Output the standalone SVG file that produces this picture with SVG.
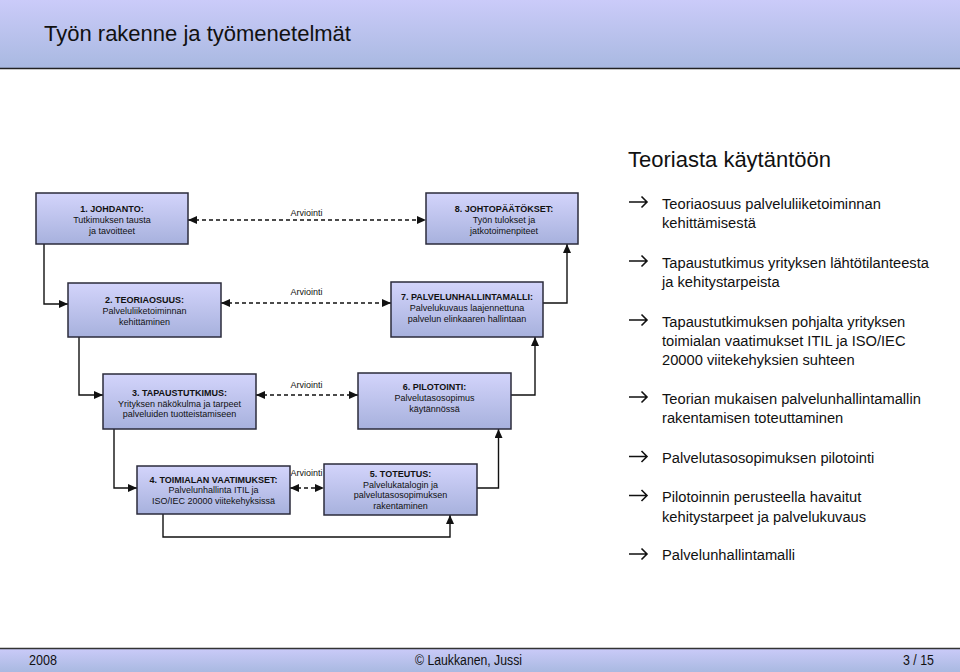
<svg xmlns="http://www.w3.org/2000/svg" width="960" height="672" viewBox="0 0 960 672">
<defs>
<linearGradient id="band" x1="0" y1="0" x2="0" y2="1">
<stop offset="0" stop-color="#cbcbf9"/>
<stop offset="1" stop-color="#a9b9e1"/>
</linearGradient>
<linearGradient id="box" x1="0" y1="0" x2="0" y2="1">
<stop offset="0" stop-color="#d3d4fb"/>
<stop offset="1" stop-color="#a7b1dd"/>
</linearGradient>
<marker id="ah" viewBox="0 0 9 8" refX="9" refY="4" markerWidth="9" markerHeight="8" markerUnits="userSpaceOnUse" orient="auto-start-reverse">
<path d="M0,0 L9,4 L0,8 z" fill="#111"/>
</marker>
<style>
.bx{fill:url(#box);stroke:#2b2b3b;stroke-width:1.5}
.t{font-family:"Liberation Sans",Arial,sans-serif;font-size:9px;fill:#111;text-anchor:middle}
.b{font-weight:bold}
.lab{font-family:"Liberation Sans",Arial,sans-serif;font-size:9px;fill:#111;text-anchor:middle}
.c{fill:none;stroke:#111;stroke-width:1.4}
.d{fill:none;stroke:#111;stroke-width:1.5;stroke-dasharray:4,3}
.bl{font-family:"Liberation Sans",Arial,sans-serif;font-size:14.7px;fill:#111}
.ba{fill:none;stroke:#111;stroke-width:1.6}
.ft{font-family:"Liberation Sans",Arial,sans-serif;font-size:14px;fill:#111}
</style>
</defs>
<rect width="960" height="672" fill="#fff"/>
<g id="header">
<rect x="0" y="0" width="960" height="68" fill="url(#band)"/>
<line x1="0" y1="68.5" x2="960" y2="68.5" stroke="#222" stroke-width="1.5"/>
<text x="44" y="41" style="font-family:'Liberation Sans',Arial,sans-serif;font-size:22px;fill:#111">Työn rakenne ja työmenetelmät</text>
</g>
<g id="connectors">
<path class="d" d="M188,220 H426" marker-start="url(#ah)" marker-end="url(#ah)"/>
<path class="d" d="M221,303 H391" marker-start="url(#ah)" marker-end="url(#ah)"/>
<path class="d" d="M256,395 H358" marker-start="url(#ah)" marker-end="url(#ah)"/>
<path class="d" d="M290,488 H324" marker-start="url(#ah)" marker-end="url(#ah)"/>
<text class="lab" x="306.5" y="216">Arviointi</text>
<text class="lab" x="306.5" y="295">Arviointi</text>
<text class="lab" x="306.5" y="388">Arviointi</text>
<text class="lab" x="306.5" y="476">Arviointi</text>
<path class="c" d="M44,244 V304 H68" marker-end="url(#ah)"/>
<path class="c" d="M79,337 V395 H103" marker-end="url(#ah)"/>
<path class="c" d="M114,429 V488 H137" marker-end="url(#ah)"/>
<path class="c" d="M163,514 V537 H450 V515" marker-end="url(#ah)"/>
<path class="c" d="M477,488 H498.5 V429" marker-end="url(#ah)"/>
<path class="c" d="M511,395 H535 V337" marker-end="url(#ah)"/>
<path class="c" d="M543,303 H567 V244" marker-end="url(#ah)"/>
</g>
<g id="n1">
<rect class="bx" x="36" y="193" width="152" height="51"/>
<text class="t b" x="112" y="212">1. JOHDANTO:</text>
<text class="t" x="112" y="223">Tutkimuksen tausta</text>
<text class="t" x="112" y="234">ja tavoitteet</text>
</g>
<g id="n2">
<rect class="bx" x="68" y="283" width="153" height="54"/>
<text class="t b" x="144.5" y="303">2. TEORIAOSUUS:</text>
<text class="t" x="144.5" y="314">Palveluliiketoiminnan</text>
<text class="t" x="144.5" y="325">kehittäminen</text>
</g>
<g id="n3">
<rect class="bx" x="103" y="374" width="153" height="55"/>
<text class="t b" x="179.5" y="396">3. TAPAUSTUTKIMUS:</text>
<text class="t" x="179.5" y="406.5">Yrityksen näkökulma ja tarpeet</text>
<text class="t" x="179.5" y="417">palveluiden tuotteistamiseen</text>
</g>
<g id="n4">
<rect class="bx" x="137" y="466" width="153" height="48"/>
<text class="t b" x="213.5" y="482.5">4. TOIMIALAN VAATIMUKSET:</text>
<text class="t" x="213.5" y="493">Palvelunhallinta ITIL ja</text>
<text class="t" x="213.5" y="503.5">ISO/IEC 20000 viitekehyksissä</text>
</g>
<g id="n5">
<rect class="bx" x="324" y="464" width="153" height="51"/>
<text class="t b" x="400.5" y="477">5. TOTEUTUS:</text>
<text class="t" x="400.5" y="487.5">Palvelukatalogin ja</text>
<text class="t" x="400.5" y="498">palvelutasosopimuksen</text>
<text class="t" x="400.5" y="508.5">rakentaminen</text>
</g>
<g id="n6">
<rect class="bx" x="358" y="373" width="153" height="56"/>
<text class="t b" x="434.5" y="390">6. PILOTOINTI:</text>
<text class="t" x="434.5" y="401">Palvelutasosopimus</text>
<text class="t" x="434.5" y="411.5">käytännössä</text>
</g>
<g id="n7">
<rect class="bx" x="391" y="282" width="152" height="55"/>
<text class="t b" x="467" y="300">7. PALVELUNHALLINTAMALLI:</text>
<text class="t" x="467" y="311">Palvelukuvaus laajennettuna</text>
<text class="t" x="467" y="321.5">palvelun elinkaaren hallintaan</text>
</g>
<g id="n8">
<rect class="bx" x="426" y="193" width="152" height="51"/>
<text class="t b" x="504" y="212">8. JOHTOPÄÄTÖKSET:</text>
<text class="t" x="504" y="223">Työn tulokset ja</text>
<text class="t" x="504" y="234">jatkotoimenpiteet</text>
</g>
<g id="right">
<text x="628" y="167" style="font-family:'Liberation Sans',Arial,sans-serif;font-size:22px;fill:#111">Teoriasta käytäntöön</text>
<path class="ba" d="M629,202 H647 M641.5,196.5 L647,202 L641.5,207.5"/>
<text class="bl" x="662" y="208.5">Teoriaosuus palveluliiketoiminnan</text>
<text class="bl" x="662" y="227.5">kehittämisestä</text>
<path class="ba" d="M629,261 H647 M641.5,255.5 L647,261 L641.5,266.5"/>
<text class="bl" x="662" y="267.5">Tapaustutkimus yrityksen lähtötilanteesta</text>
<text class="bl" x="662" y="287">ja kehitystarpeista</text>
<path class="ba" d="M629,320 H647 M641.5,314.5 L647,320 L641.5,325.5"/>
<text class="bl" x="662" y="326.5">Tapaustutkimuksen pohjalta yrityksen</text>
<text class="bl" x="662" y="345.5">toimialan vaatimukset ITIL ja ISO/IEC</text>
<text class="bl" x="662" y="364.5">20000 viitekehyksien suhteen</text>
<path class="ba" d="M629,397 H647 M641.5,391.5 L647,397 L641.5,402.5"/>
<text class="bl" x="662" y="403.5">Teorian mukaisen palvelunhallintamallin</text>
<text class="bl" x="662" y="423">rakentamisen toteuttaminen</text>
<path class="ba" d="M629,456.5 H647 M641.5,451 L647,456.5 L641.5,462"/>
<text class="bl" x="662" y="462.5">Palvelutasosopimuksen pilotointi</text>
<path class="ba" d="M629,495.5 H647 M641.5,490 L647,495.5 L641.5,501"/>
<text class="bl" x="662" y="501.5">Pilotoinnin perusteella havaitut</text>
<text class="bl" x="662" y="521.5">kehitystarpeet ja palvelukuvaus</text>
<path class="ba" d="M629,554 H647 M641.5,548.5 L647,554 L641.5,559.5"/>
<text class="bl" x="662" y="560">Palvelunhallintamalli</text>
</g>
<g id="footer">
<rect x="0" y="648" width="960" height="24" fill="url(#band)"/>
<line x1="0" y1="648.5" x2="960" y2="648.5" stroke="#333" stroke-width="1.5"/>
<text class="ft" x="29" y="665" textLength="28" lengthAdjust="spacingAndGlyphs">2008</text>
<text class="ft" x="415" y="665" textLength="107" lengthAdjust="spacingAndGlyphs">© Laukkanen, Jussi</text>
<text class="ft" x="903" y="665" textLength="31" lengthAdjust="spacingAndGlyphs">3 / 15</text>
</g>
</svg>
